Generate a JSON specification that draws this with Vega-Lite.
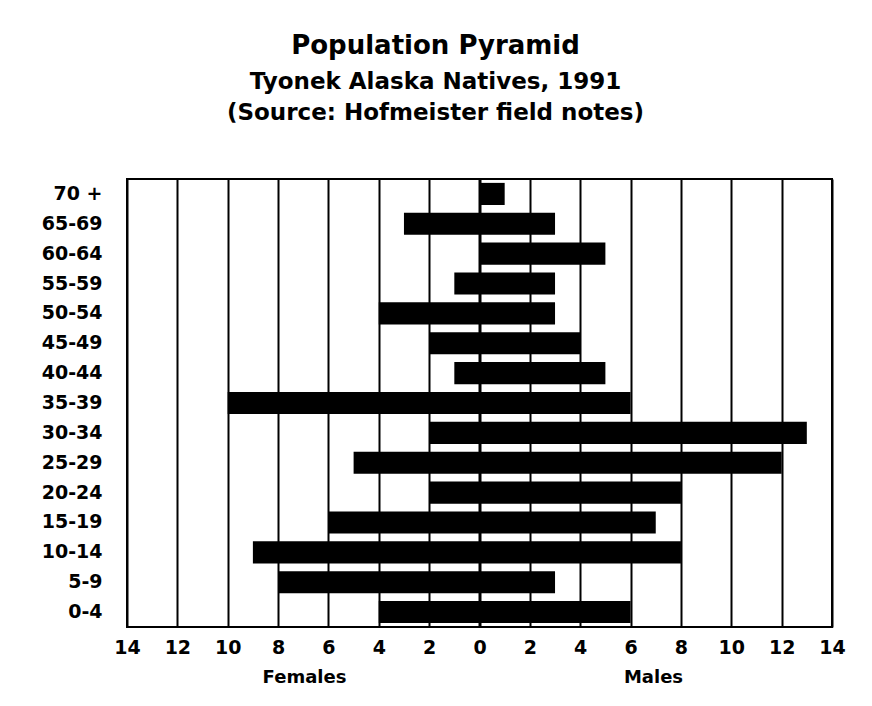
{
  "$schema": "https://vega.github.io/schema/vega-lite/v6.json",
  "autosize": {"type": "none"},
  "padding": {"left": 127, "top": 179, "right": 40, "bottom": 79},
  "width": 705,
  "height": 448,
  "background": "white",
  "title": {
    "text": "Population Pyramid",
    "subtitle": ["Tyonek Alaska Natives, 1991", "(Source:  Hofmeister field notes)"],
    "anchor": "middle",
    "frame": "group",
    "dx": -44,
    "offset": 53,
    "font": "DejaVu Sans",
    "fontSize": 26,
    "fontWeight": "bold",
    "color": "black",
    "subtitleFont": "DejaVu Sans",
    "subtitleFontSize": 23,
    "subtitleFontWeight": "bold",
    "subtitleColor": "black",
    "subtitleLineHeight": 31,
    "subtitlePadding": 12
  },
  "datasets": {
    "pyramid": [
      {"age": "70 +", "females": 0, "males": 1},
      {"age": "65-69", "females": -3, "males": 3},
      {"age": "60-64", "females": 0, "males": 5},
      {"age": "55-59", "females": -1, "males": 3},
      {"age": "50-54", "females": -4, "males": 3},
      {"age": "45-49", "females": -2, "males": 4},
      {"age": "40-44", "females": -1, "males": 5},
      {"age": "35-39", "females": -10, "males": 6},
      {"age": "30-34", "females": -2, "males": 13},
      {"age": "25-29", "females": -5, "males": 12},
      {"age": "20-24", "females": -2, "males": 8},
      {"age": "15-19", "females": -6, "males": 7},
      {"age": "10-14", "females": -9, "males": 8},
      {"age": "5-9", "females": -8, "males": 3},
      {"age": "0-4", "females": -4, "males": 6}
    ],
    "zero": [{"position": 0}]
  },
  "layer": [
    {
      "data": {"name": "pyramid"},
      "mark": {"type": "bar", "color": "black", "cornerRadius": 0},
      "encoding": {
        "y": {
          "field": "age",
          "type": "nominal",
          "sort": null,
          "scale": {"paddingInner": 0.26, "paddingOuter": 0.13},
          "axis": {
            "title": null,
            "domain": false,
            "ticks": false,
            "tickSize": 0,
            "grid": false,
            "labelPadding": 25,
            "labelFont": "DejaVu Sans",
            "labelFontSize": 19,
            "labelFontWeight": "bold",
            "labelColor": "black"
          }
        },
        "x": {
          "field": "females",
          "type": "quantitative",
          "scale": {"domain": [-14, 14], "nice": false, "zero": false},
          "axis": {
            "orient": "bottom",
            "values": [-14, -12, -10, -8, -6, -4, -2, 0, 2, 4, 6, 8, 10, 12, 14],
            "labelExpr": "abs(datum.value)",
            "domain": false,
            "ticks": false,
            "tickSize": 0,
            "labelPadding": 11,
            "labelFont": "DejaVu Sans",
            "labelFontSize": 19,
            "labelFontWeight": "bold",
            "labelColor": "black",
            "labelFlush": false,
            "grid": true,
            "gridColor": "black",
            "gridWidth": 2,
            "gridOpacity": 1,
            "title": "Females",
            "titleFont": "DejaVu Sans",
            "titleFontSize": 18,
            "titleFontWeight": "bold",
            "titleColor": "black",
            "titleAnchor": null,
            "titleAlign": "center",
            "titleBaseline": "middle",
            "titleX": 177,
            "titleY": 50
          }
        },
        "x2": {"field": "males"}
      }
    },
    {
      "data": {"name": "zero"},
      "mark": {"type": "rule", "color": "black", "strokeWidth": 2},
      "encoding": {
        "x": {
          "field": "position",
          "type": "quantitative",
          "scale": {"domain": [-14, 14], "nice": false, "zero": false},
          "axis": {
            "orient": "bottom",
            "domain": false,
            "ticks": false,
            "labels": false,
            "grid": false,
            "title": "Males",
            "titleFont": "DejaVu Sans",
            "titleFontSize": 18,
            "titleFontWeight": "bold",
            "titleColor": "black",
            "titleAnchor": null,
            "titleAlign": "center",
            "titleBaseline": "middle",
            "titleX": 526,
            "titleY": 50
          }
        }
      }
    }
  ],
  "resolve": {"axis": {"x": "independent"}},
  "config": {
    "view": {"stroke": "black", "strokeWidth": 2},
    "font": "DejaVu Sans"
  }
}
